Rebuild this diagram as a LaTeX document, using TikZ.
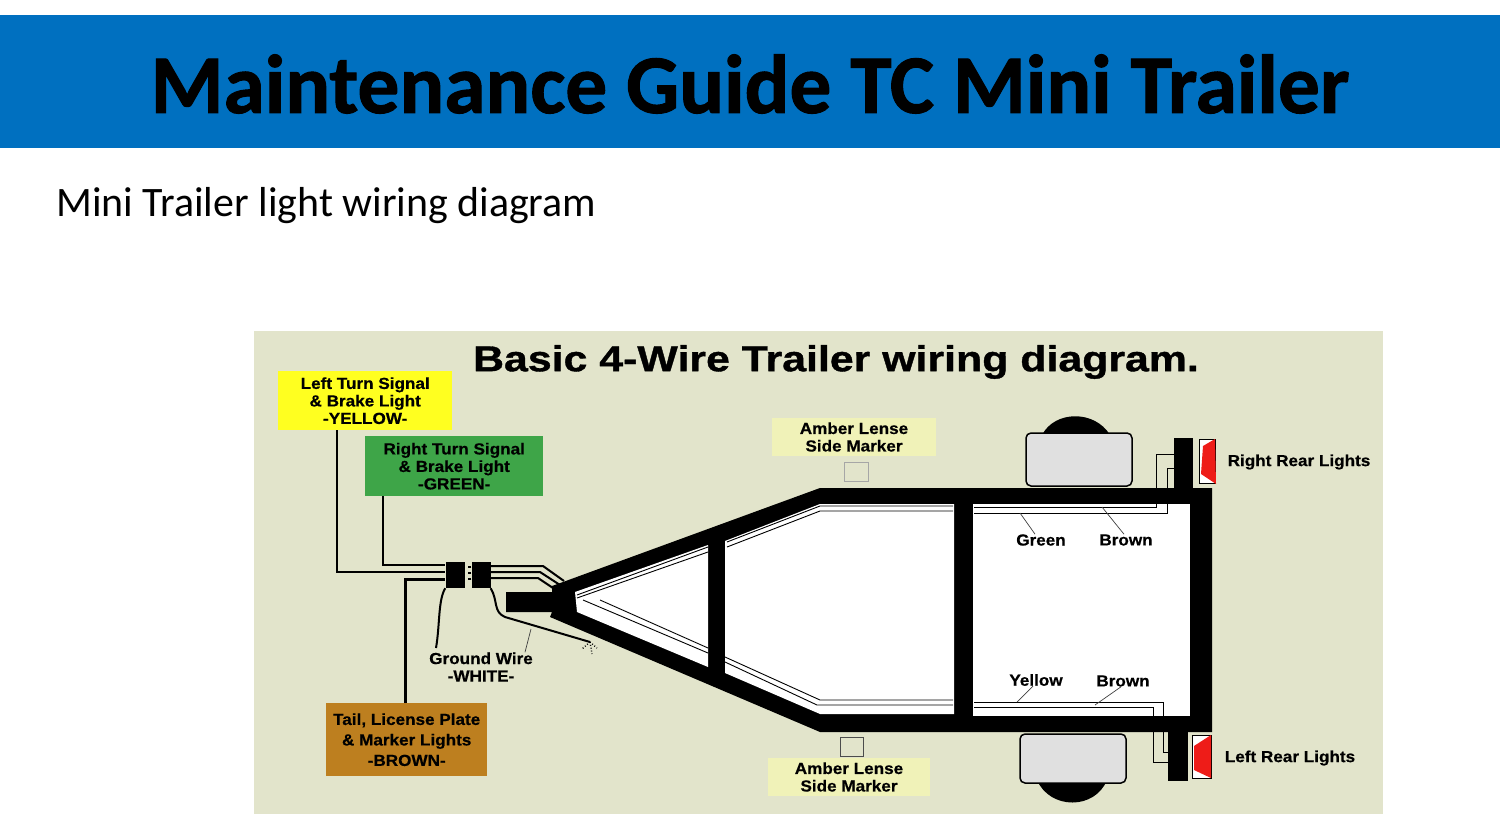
\documentclass[tikz,border=0pt]{standalone}
\usepackage{fontspec}
\setmainfont{Carlito}
\newfontfamily\titlefont{Carlito}[BoldFeatures={FakeBold=1.2}]
\newfontfamily\labelfont{Liberation Sans}[BoldFeatures={FakeStretch=1.07,FakeBold=0.5}]
\newfontfamily\headfont{Liberation Sans}[BoldFeatures={FakeStretch=1.19,FakeBold=1}]
\usetikzlibrary{positioning}
\usetikzlibrary{calc}
\definecolor{banner}{RGB}{0,112,192}
\definecolor{board}{RGB}{226,228,203}
\definecolor{paleamber}{RGB}{240,242,184}
\definecolor{signalyellow}{RGB}{255,255,32}
\definecolor{signalgreen}{RGB}{62,165,72}
\definecolor{signalbrown}{RGB}{189,127,31}
\definecolor{fender}{RGB}{224,224,224}
\definecolor{lamp}{RGB}{238,28,24}
\tikzset{
  caption/.style={font=\labelfont\bfseries\fontsize{16}{17.5}\selectfont, align=center, text=black, inner sep=0pt},
  colorbox/.style={caption, minimum width=#1, anchor=north west},
  wire/.style={draw=black, line width=2},
  thinwire/.style={draw=black, line width=0.9},
  leader/.style={draw=black!75, line width=0.7},
  frame/.style={fill=black},
  panel/.style={fill=white},
}
\begin{document}
\begin{tikzpicture}[x=1pt,y=-1pt]
        \useasboundingbox (0,0) rectangle (1500,814);
        % slide %
        \fill[white] (0,0) rectangle (1500,814);
        \fill[banner] (0,15) rectangle (1500,148);
        \node[font=\titlefont\bfseries\fontsize{83.5}{84}\selectfont, text=black] (title) at (750,84) {Maintenance Guide TC Mini Trailer};
        \node[font=\fontsize{41.9}{44}\selectfont, anchor=west, inner sep=0pt] (subtitle) at (56,206) {Mini Trailer light wiring diagram};
        \fill[board] (254,331) rectangle (1383,814);
        \node[font=\headfont\bfseries\fontsize{36}{38}\selectfont, inner sep=0pt] (heading) at (836,362) {Basic 4-Wire Trailer wiring diagram.};
        % trailer %
        \fill[black] (1042,435) .. controls (1055,410) and (1095,410) .. (1110,435) -- cycle;
        \fill[black] (1037,780) .. controls (1050,810) and (1095,810) .. (1107,780) -- cycle;
        \filldraw[fill=fender, line width=1.5, rounded corners=5] (1026,433) rectangle (1132,486);
        \filldraw[fill=fender, line width=1.5, rounded corners=5] (1020,734) rectangle (1126,783);
        \fill[frame] (506,592) -- (552,592) -- (552,586) -- (563,582) -- (820,488) -- (1212,488) -- (1212,732) -- (820,732) -- (550,617) -- (552,612) -- (506,612) -- cycle;
        \fill[panel] (575,592) -- (708,545) -- (708,667) -- (577,612) -- cycle;
        \fill[panel] (725,541) -- (820,504) -- (954,504) -- (954,714) -- (820,714) -- (725,673) -- cycle;
        \fill[panel] (973,504) -- (1190,504) -- (1190,716) -- (973,716) -- cycle;
        \fill[black] (1174,438) rectangle (1193,490);
        \fill[black] (1168,730) rectangle (1188,781);
        \filldraw[fill=white, line width=0.8] (1199,439) rectangle (1215,483);
        \filldraw[fill=white, line width=0.8] (1192,735) rectangle (1211,778);
        \fill[lamp] (1203,446) -- (1215,439) -- (1216,484) -- (1201,474) -- cycle;
        \fill[lamp] (1194,746) -- (1211,735) -- (1211,778) -- (1194,770) -- cycle;
        % side markers %
        \node[fill=paleamber, caption, minimum width=164, minimum height=38] (markertop) at (854,437) {Amber Lense\\Side Marker};
        \node[fill=paleamber, caption, minimum width=162, minimum height=38] (markerbot) at (849,777) {Amber Lense\\Side Marker};
        \node[draw=black!35, minimum width=24, minimum height=19, inner sep=0pt, below=6pt of markertop, xshift=2pt] (lensetop) {};
        \node[draw=black!70, minimum width=23, minimum height=19, inner sep=0pt, above=1pt of markerbot, xshift=3pt] (lensebot) {};
        % signal boxes %
        \node[colorbox=174, fill=signalyellow, minimum height=59] (yellow) at (278,371) {Left Turn Signal\\\& Brake Light\\-YELLOW-};
        \node[colorbox=178, fill=signalgreen, minimum height=60] (green) at (365,436) {Right Turn Signal\\\& Brake Light\\-GREEN-};
        \node[colorbox=161, fill=signalbrown, minimum height=73, font=\labelfont\bfseries\fontsize{16}{20.5}\selectfont] (brown) at (326,703) {Tail, License Plate\\\& Marker Lights\\-BROWN-};
        % plugs %
        \node[fill=black, minimum width=19, minimum height=26, inner sep=0pt] (plugl) at (455,575) {};
        \node[fill=black, minimum width=19, minimum height=26, inner sep=0pt] (plugr) at (481,575) {};
        % labels %
        \node[caption] (ground) at (481,667) {Ground Wire\\-WHITE-};
        \node[caption] (rightrear) at (1299,462) {Right Rear Lights};
        \node[caption] (leftrear) at (1290,758) {Left Rear Lights};
        \node[caption] (labgreen) at (1041,540) {Green};
        \node[caption] (labbrown) at (1126,540) {Brown};
        \node[caption] (labyellow) at (1036,680) {Yellow};
        \node[caption] (labbrownb) at (1123,681) {Brown};
        % coordinates %
        \coordinate (yellowout) at (337,430);
        \coordinate (greenout) at (383,496);
        \coordinate (brownout) at (405,703);
        \coordinate (gnd) at (590,642);
        \coordinate (rt) at (1174,454);
        \coordinate (rb) at (1174,468);
        \coordinate (lt) at (1168,762);
        \coordinate (lb) at (1168,752);
        % edges %
        \draw[wire] (yellowout) |- (plugl.west |- 0,572);
        \draw[wire] (greenout) |- (plugl.west |- 0,565);
        \draw[wire, line width=3] (brownout) |- (plugl.west |- 0,579);
        \draw[wire] (plugr.east |- 0,566) -- (543,566) -- (564,581);
        \draw[wire] (plugr.east |- 0,572) -- (540,572) -- (560,585);
        \draw[wire] (plugr.east |- 0,578) -- (538,578) -- (556,590);
        \draw[wire] (plugr.west |- 0,567) -- ++(-3,0);
        \draw[wire] (plugr.west |- 0,573) -- ++(-3,0);
        \draw[wire] (plugr.west |- 0,579) -- ++(-3,0);
        \draw[wire] (plugl.south west) .. controls (438,600) and (440,625) .. (436,648);
        \draw[wire] (plugr.south east) .. controls (498,600) and (493,612) .. (505,617) -- (gnd);
        \draw[leader] (531,629) -- (ground.north -| 525,0);
        \draw[thinwire, dotted, line width=1.4] (gnd) -- (582,649) (gnd) -- (592,654) (gnd) -- (597,648);
        % frame wires %
        \draw[thinwire] (577,595) -- (708,547);
        \draw[thinwire] (577,598) -- (708,552);
        \draw[thinwire] (727,542) -- (820,506) -- (953,506);
        \draw[thinwire] (727,547) -- (820,511) -- (953,511);
        \draw[thinwire] (600,600) -- (708,648);
        \draw[thinwire] (583,600) -- (708,653);
        \draw[thinwire] (725,657) -- (820,700) -- (953,700);
        \draw[thinwire] (725,662) -- (817,705) -- (953,705);
        \draw[thinwire] (974,507) -- (1156,507) -- (1156,454) -- (rt);
        \draw[thinwire] (974,513) -- (1167,513) -- (1167,468) -- (rb);
        \draw[thinwire] (974,702) -- (1163,702) -- (1163,752) -- (lb);
        \draw[thinwire] (974,707) -- (1153,707) -- (1153,762) -- (lt);
        \draw[leader] (1020,513) -- (labgreen.north -| 1035,0);
        \draw[leader] (1102,507) -- (labbrown.north -| 1124,0);
        \draw[leader] (1017,702) -- (labyellow.south -| 1033,0);
        \draw[leader] (1095,705) -- (labbrownb.south -| 1121,0);
      \end{tikzpicture}
\end{document}
